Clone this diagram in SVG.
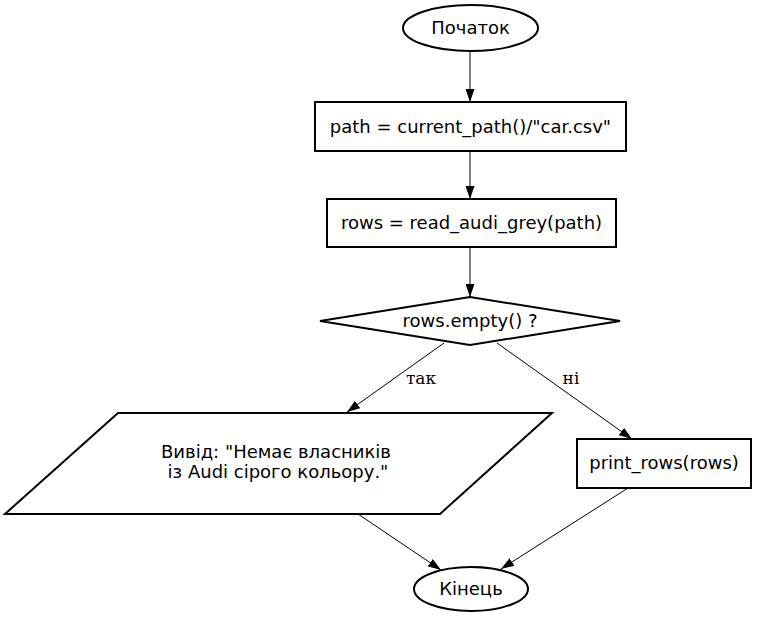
<svg xmlns="http://www.w3.org/2000/svg" width="757" height="617" viewBox="0 0 757 617">
<style>
.node{fill:#fff;stroke:#000;stroke-width:2}
.lbl{font-family:"DejaVu Sans",sans-serif;font-size:18px;fill:#000;text-anchor:middle}
.elbl{font-family:"DejaVu Serif",serif;font-size:17px;fill:#000;text-anchor:middle}
.edge{fill:none;stroke:#000;stroke-width:1;marker-end:url(#arr)}
</style>
<defs>
<marker id="arr" viewBox="0 0 13 9" refX="13" refY="4.5" markerWidth="13" markerHeight="9" markerUnits="userSpaceOnUse" orient="auto">
<path d="M0,0 L13,4.5 L0,9 z" fill="#000"/>
</marker>
</defs>
<rect width="757" height="617" fill="#fff"/>
<g id="edges">
<path class="edge" d="M470,51 L470,102"/>
<path class="edge" d="M470,151 L470,199"/>
<path class="edge" d="M470,247 L470,297"/>
<path class="edge" d="M444,343 L347,412"/>
<path class="edge" d="M497,343 L632,439"/>
<path class="edge" d="M358,514 L441,570"/>
<path class="edge" d="M628,488 L501,569"/>
<text class="elbl" x="421" y="384">так</text>
<text class="elbl" x="571" y="384">ні</text>
</g>
<g id="start">
<ellipse class="node" cx="470.5" cy="28" rx="67.5" ry="23"/>
<text class="lbl" x="470.5" y="34">Початок</text>
</g>
<g id="path">
<rect class="node" x="315" y="102" width="311" height="49"/>
<text class="lbl" x="470.5" y="133">path = current_path()/"car.csv"</text>
</g>
<g id="rows">
<rect class="node" x="327" y="199" width="289" height="48"/>
<text class="lbl" x="471.5" y="229">rows = read_audi_grey(path)</text>
</g>
<g id="cond">
<polygon class="node" points="470,297 620,321 470,345 320,321"/>
<text class="lbl" x="470" y="327">rows.empty() ?</text>
</g>
<g id="output">
<polygon class="node" points="118,413 552,413 440,514 5,514"/>
<text class="lbl" x="276" y="458">Вивід: "Немає власників</text>
<text class="lbl" x="278" y="478"> із Audi сірого кольору."</text>
</g>
<g id="print">
<rect class="node" x="577" y="439" width="174" height="49"/>
<text class="lbl" x="664" y="469">print_rows(rows)</text>
</g>
<g id="end">
<ellipse class="node" cx="471" cy="589" rx="57" ry="22"/>
<text class="lbl" x="471" y="595">Кінець</text>
</g>
</svg>
